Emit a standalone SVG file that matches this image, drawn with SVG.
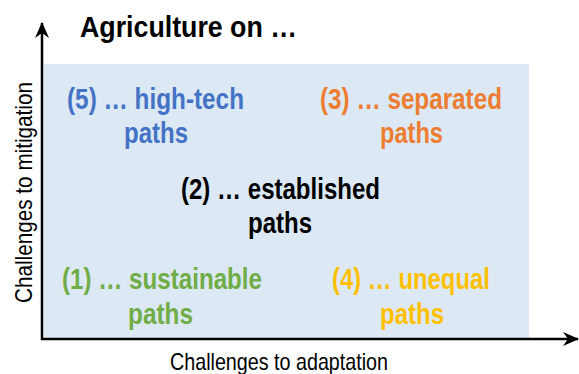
<svg xmlns="http://www.w3.org/2000/svg" width="579" height="374" viewBox="0 0 579 374">
<style>
.t{font-family:"Liberation Sans Narrow","Liberation Sans",Arial,sans-serif;font-weight:bold;font-size:29.5px}
.ax{font-family:"Liberation Sans Narrow","Liberation Sans",Arial,sans-serif;font-size:24px;fill:#000}
.axis{stroke:#000;stroke-width:2.5;fill:none}
</style>
<defs>
<marker id="ah" viewBox="0 0 16 14" refX="15" refY="7" markerWidth="16" markerHeight="14" markerUnits="userSpaceOnUse" orient="auto">
<path d="M0,0 L16,7 L0,14 L5,7 Z" fill="#000"/>
</marker>
</defs>
<rect id="panel" x="44" y="64" width="485" height="274" fill="#DCE9F5"/>
<g id="connectors">
<line class="axis" x1="42" y1="340" x2="42" y2="23" marker-end="url(#ah)"/>
<line class="axis" x1="41" y1="339" x2="578" y2="339" marker-end="url(#ah)"/>
</g>
<g id="title"><text class="t" x="80" y="37" font-size="31.5" textLength="217" lengthAdjust="spacingAndGlyphs" fill="#000">Agriculture on …</text></g>
<g id="n5" fill="#4472C4">
<text class="t" x="67" y="109" textLength="177" lengthAdjust="spacingAndGlyphs">(5) … high-tech</text>
<text class="t" x="124" y="143" textLength="64" lengthAdjust="spacingAndGlyphs">paths</text>
</g>
<g id="n3" fill="#ED7D31">
<text class="t" x="320" y="109" textLength="182" lengthAdjust="spacingAndGlyphs">(3) … separated</text>
<text class="t" x="380" y="143" textLength="63" lengthAdjust="spacingAndGlyphs">paths</text>
</g>
<g id="n2" fill="#000">
<text class="t" x="181" y="199" textLength="199" lengthAdjust="spacingAndGlyphs">(2) … established</text>
<text class="t" x="248" y="233" textLength="64" lengthAdjust="spacingAndGlyphs">paths</text>
</g>
<g id="n1" fill="#70AD47">
<text class="t" x="62" y="289" textLength="200" lengthAdjust="spacingAndGlyphs">(1) … sustainable</text>
<text class="t" x="128" y="324" textLength="65" lengthAdjust="spacingAndGlyphs">paths</text>
</g>
<g id="n4" fill="#FFC000">
<text class="t" x="332" y="289" textLength="158" lengthAdjust="spacingAndGlyphs">(4) … unequal</text>
<text class="t" x="380" y="324" textLength="64" lengthAdjust="spacingAndGlyphs">paths</text>
</g>
<g id="xlabel"><text class="ax" x="170" y="370" textLength="218" lengthAdjust="spacingAndGlyphs">Challenges to adaptation</text></g>
<g id="ylabel"><text class="ax" transform="translate(32,303) rotate(-90)" x="0" y="0" textLength="221" lengthAdjust="spacingAndGlyphs">Challenges to mitigation</text></g>
</svg>
